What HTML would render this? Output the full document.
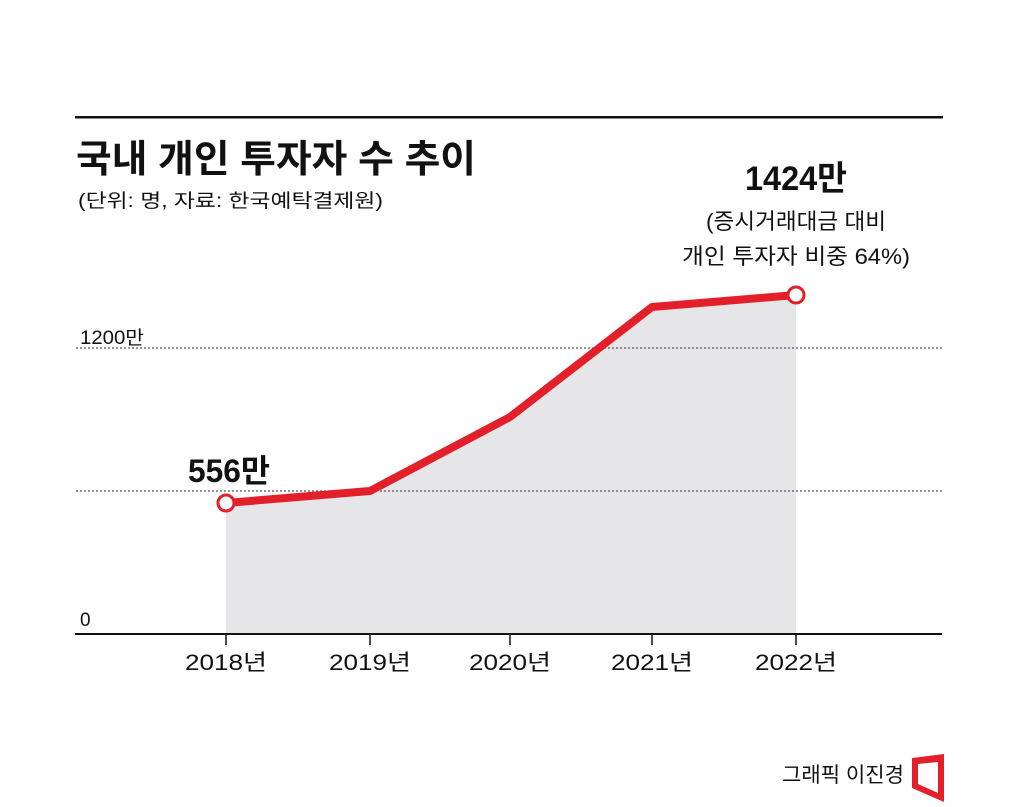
<!DOCTYPE html>
<html><head><meta charset="utf-8"><style>
html,body{margin:0;padding:0;background:#fff;}
svg{display:block;}
text{font-family:"Liberation Sans","Noto Sans CJK KR",sans-serif;fill:#111;}
</style></head><body>
<svg width="1029" height="807" viewBox="0 0 1029 807" xmlns="http://www.w3.org/2000/svg">
<rect x="75" y="116" width="868" height="2.5" fill="#111"/>
<text x="76" y="172" font-size="38" font-weight="bold" textLength="400" lengthAdjust="spacingAndGlyphs">국내 개인 투자자 수 추이</text>
<text x="78" y="207" font-size="19" textLength="305" lengthAdjust="spacingAndGlyphs">(단위: 명, 자료: 한국예탁결제원)</text>
<polygon points="226,503 370,491 510,417 652,307 796,295 796,634 226,634" fill="#e6e6e8"/>
<line x1="76" y1="348" x2="942" y2="348" stroke="#555" stroke-width="1.2" stroke-dasharray="2,2"/>
<line x1="76" y1="491" x2="942" y2="491" stroke="#555" stroke-width="1.2" stroke-dasharray="2,2"/>
<text x="80" y="344" font-size="19" textLength="64" lengthAdjust="spacingAndGlyphs">1200만</text>
<text x="80" y="626" font-size="19">0</text>
<line x1="75" y1="634" x2="942" y2="634" stroke="#111" stroke-width="2"/>
<g stroke="#111" stroke-width="1.5">
<line x1="226" y1="634" x2="226" y2="645"/><line x1="370" y1="634" x2="370" y2="645"/>
<line x1="510" y1="634" x2="510" y2="645"/><line x1="652" y1="634" x2="652" y2="645"/>
<line x1="796" y1="634" x2="796" y2="645"/></g>
<g font-size="22" text-anchor="middle">
<text x="226" y="670" textLength="82" lengthAdjust="spacingAndGlyphs">2018년</text>
<text x="370" y="670" textLength="82" lengthAdjust="spacingAndGlyphs">2019년</text>
<text x="510" y="670" textLength="82" lengthAdjust="spacingAndGlyphs">2020년</text>
<text x="652" y="670" textLength="82" lengthAdjust="spacingAndGlyphs">2021년</text>
<text x="796" y="670" textLength="82" lengthAdjust="spacingAndGlyphs">2022년</text>
</g>
<polyline points="226,503 370,491 510,417 652,307 796,295" fill="none" stroke="#e3202a" stroke-width="8" stroke-linejoin="round"/>
<circle cx="226" cy="503" r="8" fill="#fff" stroke="#e3202a" stroke-width="3"/>
<circle cx="796" cy="295" r="8" fill="#fff" stroke="#e3202a" stroke-width="3"/>
<text x="188" y="482" font-size="32" font-weight="bold" textLength="82" lengthAdjust="spacingAndGlyphs">556만</text>
<text x="796" y="190" font-size="34" font-weight="bold" text-anchor="middle" textLength="102" lengthAdjust="spacingAndGlyphs">1424만</text>
<text x="796" y="229" font-size="22" text-anchor="middle" textLength="180" lengthAdjust="spacingAndGlyphs">(증시거래대금 대비</text>
<text x="796" y="264" font-size="22" text-anchor="middle" textLength="228" lengthAdjust="spacingAndGlyphs">개인 투자자 비중 64%)</text>
<text x="782" y="782" font-size="21" textLength="122" lengthAdjust="spacingAndGlyphs">그래픽 이진경</text>
<polygon points="912,758 944,754 944,802 912,788" fill="#e3202a"/>
<polygon points="918,764 938,762 938,793 918,784" fill="#fff"/>
</svg>
</body></html>
